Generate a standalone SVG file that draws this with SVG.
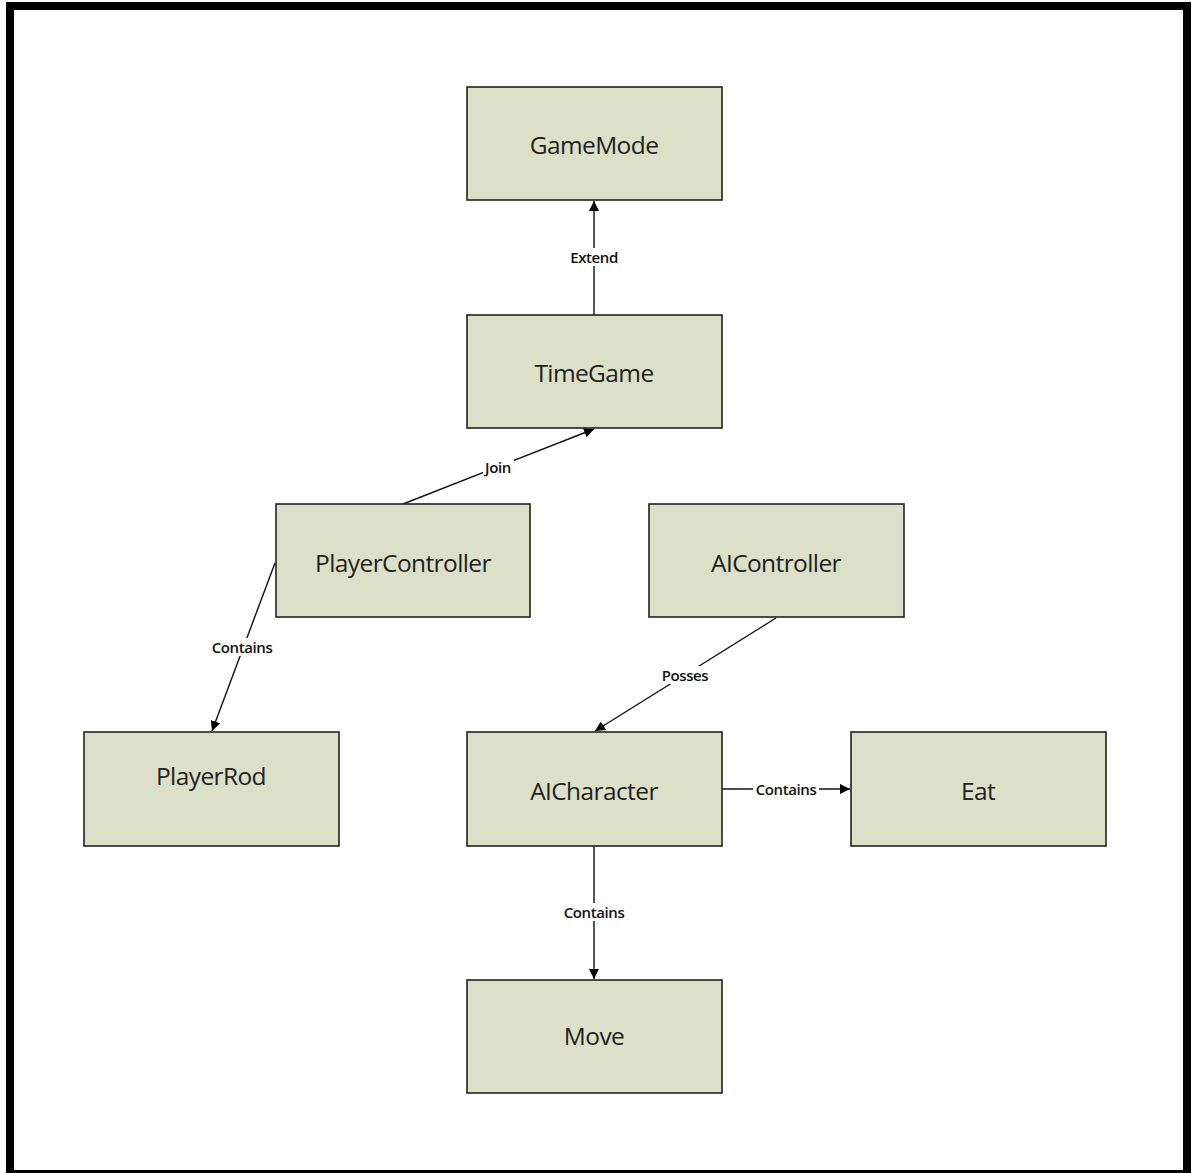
<svg xmlns="http://www.w3.org/2000/svg" width="1194" height="1173" viewBox="0 0 1194 1173">
<style>
.node rect{fill:#dde0c9;stroke:#222;stroke-width:1.6}
.node text{font-family:"Open Sans","Liberation Sans",sans-serif;font-size:24.5px;fill:#222;text-anchor:middle;dominant-baseline:central;letter-spacing:-0.6px}
.edge line{stroke:#111;stroke-width:1.4;marker-end:url(#arr)}
.lbl rect{fill:#fff}
.lbl text{font-family:"Open Sans","Liberation Sans",sans-serif;font-size:15px;font-weight:600;fill:#111;text-anchor:middle;dominant-baseline:central;letter-spacing:-0.4px}
</style>
<defs>
<marker id="arr" viewBox="0 0 10 10" refX="10" refY="5" markerWidth="10" markerHeight="10" markerUnits="userSpaceOnUse" orient="auto">
<path d="M0,0 L10,5 L0,10 z" fill="#000"/>
</marker>
</defs>
<rect width="1194" height="1173" fill="#fff"/>
<rect x="10" y="6" width="1177" height="1168" fill="none" stroke="#000" stroke-width="8"/>
<g id="connectors" class="edge">
<line x1="594" y1="315" x2="594" y2="201"/>
<line x1="403" y1="504" x2="594" y2="429"/>
<line x1="275" y1="563" x2="212" y2="731"/>
<line x1="776" y1="618" x2="595" y2="731"/>
<line x1="722" y1="789" x2="850" y2="789"/>
<line x1="594" y1="846" x2="594" y2="979"/>
<g class="lbl">
<rect x="567" y="248" width="54" height="18"/><text x="594" y="257">Extend</text>
<rect x="483" y="458" width="31" height="18"/><text x="498" y="467">Join</text>
<rect x="209" y="638" width="66" height="18"/><text x="242" y="647">Contains</text>
<rect x="658" y="666" width="54" height="18"/><text x="685" y="675">Posses</text>
<rect x="753" y="780" width="66" height="18"/><text x="786" y="789">Contains</text>
<rect x="561" y="903" width="66" height="18"/><text x="594" y="912">Contains</text>
</g>
</g>
<g id="GameMode" class="node"><rect x="467" y="87" width="255" height="113"/><text x="594" y="144">GameMode</text></g>
<g id="TimeGame" class="node"><rect x="467" y="315" width="255" height="113"/><text x="594" y="372">TimeGame</text></g>
<g id="PlayerController" class="node"><rect x="276" y="504" width="254" height="113"/><text x="403" y="562">PlayerController</text></g>
<g id="AIController" class="node"><rect x="649" y="504" width="255" height="113"/><text x="776" y="562">AIController</text></g>
<g id="PlayerRod" class="node"><rect x="84" y="732" width="255" height="114"/><text x="211" y="775">PlayerRod</text></g>
<g id="AICharacter" class="node"><rect x="467" y="732" width="255" height="114"/><text x="594" y="790">AICharacter</text></g>
<g id="Eat" class="node"><rect x="851" y="732" width="255" height="114"/><text x="978" y="790">Eat</text></g>
<g id="Move" class="node"><rect x="467" y="980" width="255" height="113"/><text x="594" y="1035">Move</text></g>
</svg>
